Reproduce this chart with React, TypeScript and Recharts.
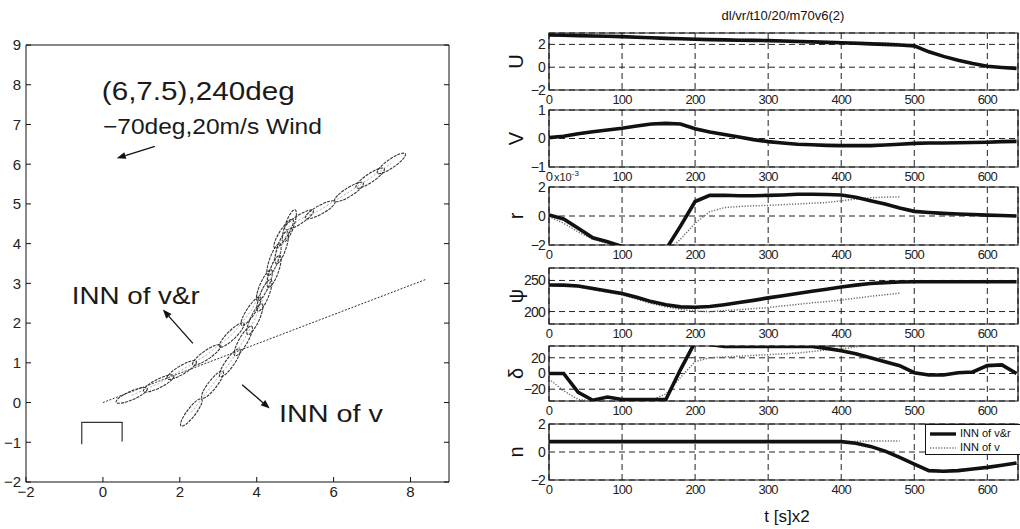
import React from "react";
import {
  ComposedChart,
  LineChart,
  Line,
  Scatter,
  XAxis,
  YAxis,
  CartesianGrid,
  ReferenceArea,
  ReferenceLine,
  ReferenceDot,
} from "recharts";

const FONT = '"Liberation Sans", Arial, sans-serif';
const minus = (v: number | string) => String(v).replace("-", "\u2212");

// ---- left: ship positions along the two tracks ----
const trackVR = [
  { x: 0.75, y: 0.18 }, { x: 1.45, y: 0.48 }, { x: 2.05, y: 0.82 }, { x: 2.7, y: 1.2 },
  { x: 3.35, y: 1.7 }, { x: 3.85, y: 2.3 }, { x: 4.2, y: 2.95 }, { x: 4.45, y: 3.6 },
  { x: 4.7, y: 4.25 }, { x: 5.1, y: 4.6 }, { x: 5.65, y: 4.85 }, { x: 6.4, y: 5.3 },
  { x: 6.95, y: 5.65 }, { x: 7.5, y: 6.02 },
];
const trackV = [
  { x: 2.3, y: -0.25 }, { x: 2.85, y: 0.45 }, { x: 3.3, y: 1.0 }, { x: 3.65, y: 1.55 },
  { x: 3.95, y: 2.1 }, { x: 4.2, y: 2.7 }, { x: 4.45, y: 3.3 }, { x: 4.65, y: 3.9 },
  { x: 4.85, y: 4.45 },
];
const courseLine = [{ x: 0, y: 0 }, { x: 8.4, y: 3.1 }];
const berth = [{ x: -0.55, y: -1.05 }, { x: -0.55, y: -0.5 }, { x: 0.5, y: -0.5 }, { x: 0.5, y: -0.98 }];
const xTicksL = [-2, 0, 2, 4, 6, 8];
const yTicksL = [-2, -1, 0, 1, 2, 3, 4, 5, 6, 7, 8, 9];

const notes = [
  { x: -0.03, y: 7.61, text: "(6,7.5),240deg", size: 25, width: 193 },
  { x: 0.0, y: 6.75, text: "\u221270deg,20m/s Wind", size: 22, width: 219 },
  { x: -0.81, y: 2.49, text: "INN of v&r", size: 24, width: 128 },
  { x: 4.58, y: -0.48, text: "INN of v", size: 23, width: 104 },
];
const arrows = [
  [{ x: 1.35, y: 6.45 }, { x: 0.36, y: 6.15 }],
  [{ x: 2.34, y: 1.49 }, { x: 1.56, y: 2.34 }],
  [{ x: 3.62, y: 0.45 }, { x: 4.34, y: -0.15 }],
];

// ---- right: time histories (INN of v&r solid, INN of v dotted) ----
const time = [0, 20, 40, 60, 80, 100, 120, 140, 160, 180, 200, 220, 240, 260, 280, 300, 320,
  340, 360, 380, 400, 420, 440, 460, 480, 500, 520, 540, 560, 580, 600, 620, 640];
const xTicksR = [0, 100, 200, 300, 400, 500, 600];

const uVR = [2.82, 2.8, 2.77, 2.74, 2.71, 2.68, 2.63, 2.58, 2.53, 2.49, 2.45, 2.42, 2.4, 2.37, 2.35,
  2.33, 2.3, 2.26, 2.22, 2.18, 2.15, 2.1, 2.05, 2.0, 1.95, 1.87, 1.35, 0.95, 0.62, 0.33, 0.08, -0.02, -0.1];
const uV = [2.86, 2.85, 2.83, 2.8, 2.77, 2.74, 2.7, 2.65, 2.6, 2.56, 2.52, 2.49, 2.47, 2.45, 2.43,
  2.41, 2.38, 2.35, 2.31, 2.27, 2.24, 2.2, 2.16, 2.12, 2.08];

const vVR = [0.03, 0.08, 0.17, 0.24, 0.3, 0.36, 0.44, 0.51, 0.53, 0.51, 0.34, 0.23, 0.14, 0.05, -0.04,
  -0.11, -0.16, -0.2, -0.22, -0.24, -0.25, -0.25, -0.25, -0.23, -0.2, -0.17, -0.16, -0.16, -0.15,
  -0.14, -0.13, -0.11, -0.1];
const vV = [0.02, 0.07, 0.15, 0.23, 0.29, 0.35, 0.42, 0.49, 0.52, 0.5, 0.36, 0.25, 0.15, 0.06, -0.03,
  -0.1, -0.15, -0.19, -0.22, -0.23, -0.24, -0.24, -0.23, -0.22, -0.2];

const rVR = [0.07, -0.2, -0.85, -1.5, -1.78, -2.1, -2.6, -2.8, -2.3, -0.7, 1.0, 1.42, 1.43, 1.4, 1.4,
  1.42, 1.45, 1.5, 1.5, 1.48, 1.45, 1.3, 1.05, 0.82, 0.55, 0.32, 0.24, 0.18, 0.14, 0.1, 0.06, 0.03, 0.0];
const rV = [-0.05, -0.5, -1.1, -1.6, -1.9, -2.3, -2.7, -2.8, -2.5, -1.6, -0.5, 0.3, 0.58, 0.66, 0.7,
  0.73, 0.78, 0.83, 0.88, 0.93, 1.05, 1.17, 1.26, 1.3, 1.32];

const psiVR = [242.7, 242.5, 241, 237, 233, 229, 223, 216, 211, 207.5, 207, 208, 211, 214.5, 218, 222,
  225.5, 229, 232.5, 236, 239.5, 242.5, 245, 246.5, 247.5, 248, 248, 248, 248, 248, 248, 248, 248];
const psiV = [242.7, 242, 239.5, 235, 231, 226.5, 220, 213, 207.5, 203.5, 201, 199.8, 201.5, 203,
  204.8, 206.5, 209, 211.5, 214, 216, 218.5, 221.5, 224.5, 227, 229.5];

const deltaVR = [0, 0, -24, -34, -30, -33, -33, -33, -33, 5, 40, 37, 34.5, 34.5, 34.5, 34.5, 34.5,
  34.5, 34.5, 32, 29, 25, 20, 15, 10, 1, -2, -2, 1, 2, 10, 11, 0];
const deltaV = [-7, -22, -33, -35, -35, -35, -35, -34, -26, -5, 15, 20, 21, 22, 23, 24, 25, 26, 28,
  30, 31, 34, 35, 35, 35];

const nVR = [0.74, 0.74, 0.74, 0.74, 0.74, 0.74, 0.74, 0.74, 0.74, 0.74, 0.74, 0.74, 0.74, 0.74,
  0.74, 0.74, 0.74, 0.74, 0.74, 0.74, 0.74, 0.62, 0.4, 0.06, -0.38, -0.86, -1.33, -1.38, -1.33,
  -1.22, -1.1, -0.95, -0.78];
const nV = [0.74, 0.74, 0.74, 0.74, 0.74, 0.74, 0.74, 0.74, 0.74, 0.74, 0.74, 0.74, 0.74, 0.74,
  0.74, 0.74, 0.74, 0.74, 0.74, 0.74, 0.74, 0.76, 0.78, 0.78, 0.78];

const panels = [
  { name: "U", solid: uVR, dotted: uV, domain: [-2, 3], ticks: [-2, 0, 2] },
  { name: "V", solid: vVR, dotted: vV, domain: [-1, 1], ticks: [-1, 0, 1] },
  { name: "r", solid: rVR, dotted: rV, domain: [-2, 2], ticks: [-2, 0, 2], exp: true },
  { name: "\u03c8", solid: psiVR, dotted: psiV, domain: [180, 270], ticks: [200, 250] },
  { name: "\u03b4", solid: deltaVR, dotted: deltaV, domain: [-35, 35], ticks: [-20, 0, 20] },
  { name: "n", solid: nVR, dotted: nV, domain: [-2, 2], ticks: [-2, 0, 2] },
];
const panelBox = [
  { top: 33, bottom: 90 },
  { top: 110, bottom: 167 },
  { top: 187, bottom: 245 },
  { top: 268, bottom: 324 },
  { top: 346, bottom: 401 },
  { top: 424, bottom: 480 },
];
const PAD_TOP = 22;

function shipShape(track: { x: number; y: number }[]) {
  return (props: any) => {
    const { cx, cy, payload } = props;
    if (cx == null || cy == null) return <g />;
    const i = track.findIndex((p) => p.x === payload?.x && p.y === payload?.y);
    const a = track[Math.max(0, i - 1)];
    const b = track[Math.min(track.length - 1, i + 1)];
    const deg = (Math.atan2((b.y - a.y) * 1.03, b.x - a.x) * 180) / Math.PI;
    return (
      <ellipse
        cx={cx}
        cy={cy}
        rx={17}
        ry={4.3}
        transform={`rotate(${-deg} ${cx} ${cy})`}
        fill="none"
        stroke="#333"
        strokeWidth={1.1}
        strokeDasharray="3 1"
      />
    );
  };
}

const arrowShape = (props: any) => {
  const { x1, y1, x2, y2 } = props;
  const t = Math.atan2(y2 - y1, x2 - x1);
  const L = 9;
  const W = 3.5;
  const bx = x2 - L * Math.cos(t);
  const by = y2 - L * Math.sin(t);
  const pts = `${x2},${y2} ${bx + W * Math.sin(t)},${by - W * Math.cos(t)} ${bx - W * Math.sin(t)},${by + W * Math.cos(t)}`;
  return (
    <g>
      <line x1={x1} y1={y1} x2={bx} y2={by} stroke="#111" strokeWidth={1.3} />
      <polygon points={pts} fill="#111" />
    </g>
  );
};

const axisName = (name: string, exp?: boolean) => (props: any) => {
  const vb = props.viewBox || {};
  const right = vb.x + vb.width;
  const x = right - 33;
  const y = vb.y + vb.height / 2;
  return (
    <g>
      <text
        x={x}
        y={y}
        transform={`rotate(-90 ${x} ${y})`}
        textAnchor="middle"
        dominantBaseline="central"
        fontSize={20}
        fontFamily={FONT}
        fill="#111"
      >
        {name}
      </text>
      {exp && (
        <text x={right + 5} y={vb.y - 6} fontSize={11} fontFamily={FONT} fill="#222">
          x10
          <tspan dy={-5} fontSize={8}>
            -3
          </tspan>
        </text>
      )}
    </g>
  );
};

function TrackPlot() {
  return (
    <ComposedChart width={460} height={529} margin={{ top: 44, right: 10, bottom: 0, left: 0 }}>
      <XAxis
        dataKey="x"
        type="number"
        domain={[-2, 9]}
        ticks={xTicksL}
        interval={0}
        height={47}
        allowDataOverflow
        tickSize={-5}
        tickMargin={9}
        stroke="#111"
        tick={{ fill: "#222", fontSize: 15, fontFamily: FONT }}
        tickFormatter={minus}
      />
      <XAxis
        xAxisId="top"
        orientation="top"
        type="number"
        domain={[-2, 9]}
        ticks={xTicksL}
        interval={0}
        height={1}
        allowDataOverflow
        tickSize={-5}
        stroke="#111"
        tickFormatter={() => ""}
      />
      <YAxis
        dataKey="y"
        type="number"
        domain={[-2, 9]}
        ticks={yTicksL}
        interval={0}
        width={26}
        allowDataOverflow
        tickSize={-5}
        tickMargin={10}
        stroke="#111"
        tick={{ fill: "#222", fontSize: 15, fontFamily: FONT }}
        tickFormatter={minus}
      />
      <YAxis
        yAxisId="right"
        orientation="right"
        type="number"
        domain={[-2, 9]}
        ticks={yTicksL}
        interval={0}
        width={1}
        allowDataOverflow
        tickSize={-5}
        stroke="#111"
        tickFormatter={() => ""}
      />
      <Scatter
        data={courseLine}
        line={{ stroke: "#333", strokeWidth: 1, strokeDasharray: "2 1.5" }}
        shape={() => <g />}
        isAnimationActive={false}
      />
      <Scatter data={berth} line={{ stroke: "#333", strokeWidth: 1.2 }} shape={() => <g />} isAnimationActive={false} />
      <Scatter
        data={trackVR}
        line={{ stroke: "#999", strokeWidth: 0.8, strokeDasharray: "2 2" }}
        shape={shipShape(trackVR)}
        isAnimationActive={false}
      />
      <Scatter
        data={trackV}
        line={{ stroke: "#999", strokeWidth: 0.8, strokeDasharray: "2 2" }}
        shape={shipShape(trackV)}
        isAnimationActive={false}
      />
      {arrows.map((seg, i) => (
        <ReferenceLine key={`a${i}`} segment={seg} shape={arrowShape} />
      ))}
      {notes.map((n) => (
        <ReferenceDot
          key={n.text}
          x={n.x}
          y={n.y}
          r={0}
          shape={(p: any) => (
            <text
              x={p.cx}
              y={p.cy}
              fontSize={n.size}
              fontFamily={FONT}
              fill="#1a1a1a"
              textLength={n.width}
              lengthAdjust="spacingAndGlyphs"
            >
              {n.text}
            </text>
          )}
        />
      ))}
    </ComposedChart>
  );
}

function Panel({ p, box }: { p: (typeof panels)[number]; box: { top: number; bottom: number } }) {
  const h = box.bottom - box.top;
  const rows = time.map((t, i) => ({
    t,
    a: p.solid[i],
    b: i < p.dotted.length ? p.dotted[i] : null,
  }));
  return (
    <div style={{ position: "absolute", left: 500, top: box.top - PAD_TOP }}>
      <LineChart
        width={520}
        height={h + PAD_TOP + 20}
        data={rows}
        margin={{ top: PAD_TOP, right: 2, bottom: 0, left: 0 }}
      >
        <CartesianGrid stroke="#222" strokeDasharray="6 4" />
        <XAxis
          dataKey="t"
          type="number"
          domain={[0, 642]}
          ticks={xTicksR}
          interval={0}
          height={20}
          allowDataOverflow
          axisLine={false}
          tickLine={false}
          tickSize={0}
          tickMargin={5}
          tick={{ fill: "#222", fontSize: 13, fontFamily: FONT, letterSpacing: -0.8 }}
        />
        <YAxis
          type="number"
          domain={p.domain}
          ticks={p.ticks}
          interval={0}
          width={49}
          allowDataOverflow
          axisLine={false}
          tickLine={false}
          tickSize={0}
          tickMargin={4}
          tick={{ fill: "#222", fontSize: 14, fontFamily: FONT, letterSpacing: -0.8 }}
          tickFormatter={minus}
          label={axisName(p.name, (p as any).exp)}
        />
        <ReferenceArea
          x1={0}
          x2={642}
          y1={p.domain[0]}
          y2={p.domain[1]}
          fill="none"
          stroke="#111"
          strokeWidth={1.2}
        />
        <Line
          dataKey="b"
          stroke="#6a6a6a"
          strokeWidth={1.5}
          strokeDasharray="1.2 1.6"
          dot={false}
          connectNulls={false}
          isAnimationActive={false}
        />
        <Line dataKey="a" stroke="#111" strokeWidth={3.6} dot={false} isAnimationActive={false} />
      </LineChart>
    </div>
  );
}

export default function App() {
  return (
    <div
      style={{
        position: "absolute",
        left: 0,
        top: 0,
        width: 1020,
        height: 529,
        overflow: "hidden",
        background: "#fff",
        fontFamily: FONT,
        color: "#111",
      }}
    >
      <div style={{ position: "absolute", left: 0, top: 0 }}>
        <TrackPlot />
      </div>
      <div style={{ position: "absolute", left: 683, top: 8, width: 200, textAlign: "center", fontSize: 13 }}>
        dl/vr/t10/20/m70v6(2)
      </div>
      {panels.map((p, k) => (
        <Panel key={p.name} p={p} box={panelBox[k]} />
      ))}
      <div style={{ position: "absolute", left: 737, top: 507, width: 100, textAlign: "center", fontSize: 17 }}>
        t [s]x2
      </div>
      <div
        style={{
          position: "absolute",
          left: 925,
          top: 424,
          width: 110,
          height: 29,
          border: "1px solid #111",
          background: "#fff",
          fontSize: 11,
          lineHeight: "13px",
        }}
      >
        {[
          { label: "INN of v&r", stroke: "#111", w: 3.4, dash: undefined },
          { label: "INN of v", stroke: "#6a6a6a", w: 1.5, dash: "1.2 1.6" },
        ].map((s, i) => (
          <div key={s.label} style={{ display: "flex", alignItems: "center", marginTop: i === 0 ? 2 : 1 }}>
            <svg width={34} height={12}>
              <line x1={4} y1={6} x2={30} y2={6} stroke={s.stroke} strokeWidth={s.w} strokeDasharray={s.dash} />
            </svg>
            <span>{s.label}</span>
          </div>
        ))}
      </div>
    </div>
  );
}
